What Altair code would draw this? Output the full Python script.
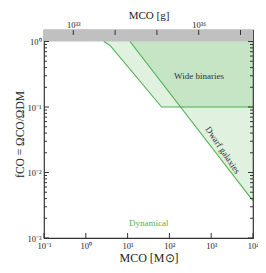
import altair as alt
import pandas as pd

MSUN_G = 1.989e33  # grams per solar mass

# Axis ticks
x_exps = [-1, 0, 1, 2, 3, 4]
y_exps = [-3, -2, -1, 0]
g_exps = [33, 34, 35, 36, 37]
g_labeled = [33, 36]

# Constraint boundaries (M_CO in solar masses, f_CO)
wb_mass = [2.7, 3.8, 65.0, 10000.0]
wb_f = [1.0, 0.87, 0.1, 0.1]
dw_mass = [11.4, 10000.0]
dw_f = [1.0, 0.0037]

# Text labels
lab_text = ["Wide binaries", "Dwarf galaxies", "Dynamical"]
lab_mass = [510.0, 1900.0, 32.0]
lab_f = [0.30, 0.022, 0.0017]

X_DOMAIN = [0.1, 1e4]
Y_DOMAIN = [1e-3, 1.5]
GREEN = "#2ca02c"
FONT = "Liberation Serif"

SUP = {"-": "\u207b", "0": "\u2070", "1": "\u00b9", "2": "\u00b2", "3": "\u00b3",
       "4": "\u2074", "5": "\u2075", "6": "\u2076", "7": "\u2077", "8": "\u2078", "9": "\u2079"}


def sup(e):
    return "10" + "".join(SUP[c] for c in str(e))


def label_expr(exps, shown=None):
    shown = exps if shown is None else shown
    expr = "''"
    for e in reversed(exps):
        lab = sup(e) if e in shown else ""
        expr = f"(round(log(datum.value)/LN10) == {e}) ? '{lab}' : ({expr})"
    return expr


x_vals = [10.0 ** e for e in x_exps]
y_vals = [10.0 ** e for e in y_exps]
g_vals = [10.0 ** e for e in g_exps]
y_minor = [m * 10.0 ** e for e in y_exps[:-1] for m in range(2, 10)]

xscale = alt.Scale(type="log", domain=X_DOMAIN, nice=False)
yscale = alt.Scale(type="log", domain=Y_DOMAIN, nice=False)

x_axis = alt.Axis(values=x_vals, labelExpr=label_expr(x_exps), title="MCO [M\u2299]",
                  ticks=False, domain=False, grid=False, labelFlush=False,
                  labelOverlap=False, labelPadding=3, titlePadding=3)
y_axis = alt.Axis(values=y_vals, labelExpr=label_expr(y_exps),
                  title="fCO = \u03a9CO/\u03a9DM", titleFontSize=11.5,
                  ticks=False, domain=False, grid=False, labelFlush=False,
                  labelOverlap=False, labelPadding=3, titlePadding=1)


def X(field):
    return alt.X(field, scale=xscale, axis=x_axis)


def Y(field):
    return alt.Y(field, scale=yscale, axis=y_axis)


W, H = 209, 208

# Gray band above f = 1
band_df = pd.DataFrame({"x": [X_DOMAIN[0]], "x2": [X_DOMAIN[1]], "y": [1.0], "y2": [Y_DOMAIN[1]]})
band = alt.Chart(band_df).mark_rect(color="#c0c0c0").encode(
    x=X("x:Q"), x2="x2:Q", y=Y("y:Q"), y2="y2:Q",
)

wb_df = pd.DataFrame({"m": wb_mass, "f": wb_f, "top": [1.0] * len(wb_mass)})
dw_df = pd.DataFrame({"m": dw_mass, "f": dw_f, "top": [1.0] * len(dw_mass)})


def region(df):
    base = alt.Chart(df)
    area = base.mark_area(color=GREEN, opacity=0.15).encode(
        x=X("m:Q"), y=Y("f:Q"), y2="top:Q",
    )
    line = base.mark_line(color=GREEN, opacity=0.8, strokeWidth=1.1).encode(
        x=X("m:Q"), y=Y("f:Q"),
    )
    return area, line


wb_area, wb_line = region(wb_df)
dw_area, dw_line = region(dw_df)

lab_df = pd.DataFrame({"t": lab_text, "m": lab_mass, "f": lab_f})


def text_layer(i, color, angle=0):
    return alt.Chart(lab_df.iloc[[i]]).mark_text(
        font=FONT, fontSize=9, color=color, angle=angle, align="center", baseline="middle"
    ).encode(x=X("m:Q"), y=Y("f:Q"), text="t:N")


t_wb = text_layer(0, "#333333")
t_dw = text_layer(1, "#333333", 56)
t_dyn = text_layer(2, "#55b455")

# Inward ticks
xt_df = pd.DataFrame({"v": x_vals})
bottom_ticks = alt.Chart(xt_df).mark_rule(color="#333333", strokeWidth=1).encode(
    x=X("v:Q"), y=alt.value(H), y2=alt.value(H - 5))

yt_df = pd.DataFrame({"v": y_vals})
ym_df = pd.DataFrame({"v": y_minor})
left_major = alt.Chart(yt_df).mark_rule(color="#333333").encode(
    y=Y("v:Q"), x=alt.value(0), x2=alt.value(5))
left_minor = alt.Chart(ym_df).mark_rule(color="#333333").encode(
    y=Y("v:Q"), x=alt.value(0), x2=alt.value(3))
right_major = alt.Chart(yt_df).mark_rule(color="#333333").encode(
    y=Y("v:Q"), x=alt.value(W), x2=alt.value(W - 5))
right_minor = alt.Chart(ym_df).mark_rule(color="#333333").encode(
    y=Y("v:Q"), x=alt.value(W), x2=alt.value(W - 3))

inner = alt.layer(band, wb_area, dw_area, wb_line, dw_line, t_wb, t_dw, t_dyn,
                  bottom_ticks, left_major, left_minor, right_major, right_minor)

# Top axis in grams
g_df = pd.DataFrame({"g": g_vals})
gscale = alt.Scale(type="log", domain=[X_DOMAIN[0] * MSUN_G, X_DOMAIN[1] * MSUN_G], nice=False)
top = alt.Chart(g_df).mark_rule(color="#333333").encode(
    x=alt.X("g:Q", scale=gscale,
            axis=alt.Axis(orient="top", values=g_vals, labelExpr=label_expr(g_exps, g_labeled),
                          title="MCO [g]", ticks=False, domain=False, grid=False,
                          labelFlush=False, labelOverlap=False, labelPadding=1,
                          titlePadding=0, titleFontSize=11)),
    y=alt.value(0), y2=alt.value(5),
)

chart = alt.layer(inner, top).resolve_scale(x="independent").properties(
    width=W, height=H,
    autosize=alt.AutoSizeParams(type="none"),
    padding={"left": 36, "top": 22, "right": 5, "bottom": 27},
).configure_view(stroke="#333333", strokeWidth=1.2).configure_axis(
    labelFont=FONT, titleFont=FONT, labelFontSize=8.5, titleFontSize=12,
    titleFontWeight="normal", labelColor="#222222", titleColor="#222222",
)

chart.save("out.html", embed_options={"renderer": "svg", "actions": False})
